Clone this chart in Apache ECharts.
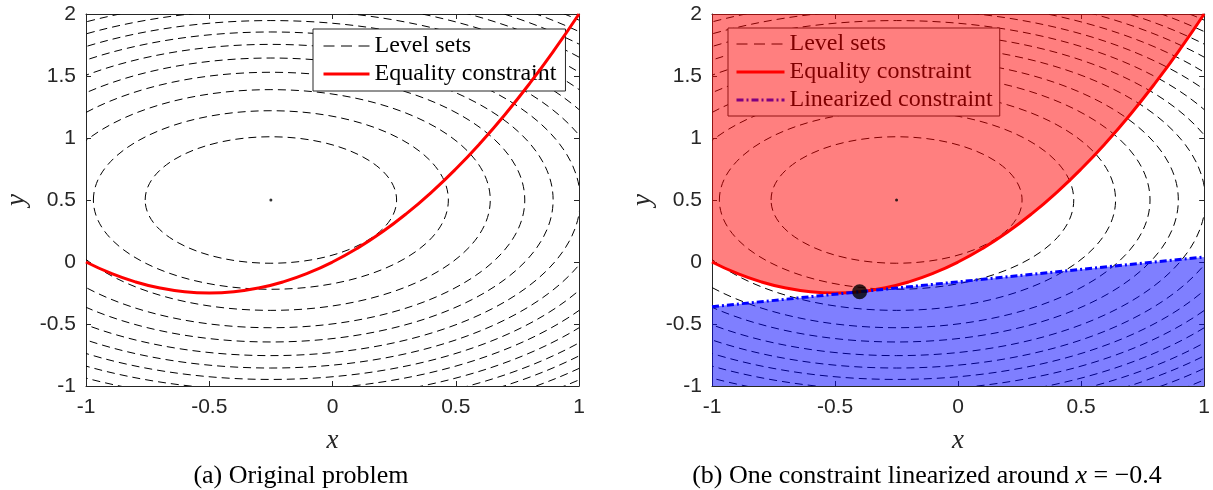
<!DOCTYPE html>
<html lang="en">
<head>
    <meta charset="utf-8">
    <title>Level sets and equality constraint</title>
    <script type="text/javascript" src="https://cdn.jsdelivr.net/npm/echarts@6/dist/echarts.min.js"></script>
    <style type="text/css">
        html, body {
            margin: 0;
            padding: 0;
            background: #fff;
        }

        #main {
            width: 1213px;
            height: 490px;
        }
    </style>
</head>
<body>
<div id="main"></div>
<script type="text/javascript">
    // equality constraint (red)
    var curveX = [-1, -0.9, -0.8, -0.7, -0.6, -0.5, -0.4, -0.3, -0.2, -0.1, 0, 0.1, 0.2, 0.3, 0.4, 0.5, 0.6, 0.7, 0.8, 0.9, 1];
    var curveY = [0, -0.09, -0.16, -0.21, -0.24, -0.25, -0.24, -0.21, -0.16, -0.09, 0, 0.11, 0.24, 0.39, 0.56, 0.75, 0.96, 1.19, 1.44, 1.71, 2];
    // linearized constraint (blue)
    var linX = [-1, 1];
    var linY = [-0.36, 0.04];
    // level sets: circles round the minimum
    var levelCenter = [-0.25, 0.5];
    var levelRadii = [0.51, 0.72, 0.89, 1.03, 1.145, 1.255, 1.355, 1.447, 1.535, 1.62, 1.7, 1.773, 1.846, 1.915];
    // linearization point
    var linPoint = [-0.4, -0.24];
    // axes
    var xMin = -1, xMax = 1, xStep = 0.5;
    var yMin = -1, yMax = 2, yStep = 0.5;

    var axisColor = '#262626';
    var levelDash = [8, 5];
    var linDash = [7, 3, 2, 3];

    function zip(xs, ys) {
        var out = [];
        for (var i = 0; i < xs.length; i++) {
            out.push([xs[i], ys[i]]);
        }
        return out;
    }

    function xAxisFor(gi, pos) {
        return {
            type: 'value',
            gridIndex: gi,
            position: pos,
            min: xMin,
            max: xMax,
            interval: xStep,
            axisLine: {show: true, onZero: false, lineStyle: {color: axisColor, width: 1}},
            axisTick: {show: true, inside: true, length: 5, lineStyle: {color: axisColor}},
            axisLabel: {
                show: pos === 'bottom',
                color: axisColor,
                fontFamily: 'Liberation Sans',
                fontSize: 21,
                margin: 11
            },
            splitLine: {show: false},
            name: pos === 'bottom' ? 'x' : '',
            nameLocation: 'middle',
            nameGap: 41,
            nameTextStyle: {fontFamily: 'Liberation Serif', fontStyle: 'italic', fontSize: 27, color: axisColor}
        };
    }

    function yAxisFor(gi, pos) {
        return {
            type: 'value',
            gridIndex: gi,
            position: pos,
            min: yMin,
            max: yMax,
            interval: yStep,
            axisLine: {show: true, onZero: false, lineStyle: {color: axisColor, width: 1}},
            axisTick: {show: true, inside: true, length: 5, lineStyle: {color: axisColor}},
            axisLabel: {
                show: pos === 'left',
                color: axisColor,
                fontFamily: 'Liberation Sans',
                fontSize: 21,
                margin: 10
            },
            splitLine: {show: false},
            name: pos === 'left' ? 'y' : '',
            nameLocation: 'middle',
            nameGap: 56,
            nameTextStyle: {fontFamily: 'Liberation Serif', fontStyle: 'italic', fontSize: 27, color: axisColor}
        };
    }

    // dashed circles drawn through the axes' own scales
    function drawLevel(params, api) {
        var c = api.coord(levelCenter);
        var r = api.value(0);
        var s = api.size([r, r], levelCenter);
        var cs = params.coordSys;
        return {
            type: 'group',
            clipPath: {type: 'rect', shape: {x: cs.x, y: cs.y, width: cs.width, height: cs.height}},
            children: [{
                type: 'ellipse',
                shape: {cx: c[0], cy: c[1], rx: s[0], ry: s[1]},
                style: {fill: 'none', stroke: '#000', lineWidth: 1, lineDash: levelDash}
            }]
        };
    }

    var levelData = levelRadii.map(function (r) {
        return [r];
    });

    var legendCommon = {
        orient: 'vertical',
        selectedMode: false,
        backgroundColor: '#fff',
        borderColor: axisColor,
        borderWidth: 1,
        borderRadius: 0,
        itemHeight: 14,
        itemGap: 4,
        itemStyle: {opacity: 0},
        textStyle: {fontFamily: 'Liberation Serif', fontSize: 24, color: '#000'}
    };

    var legendLevel = {name: 'Level sets', lineStyle: {color: '#000', width: 1, type: [11, 6.5]}};
    var legendEq = {name: 'Equality constraint', lineStyle: {color: '#ff0000', width: 3, type: 'solid'}};
    var legendLin = {name: 'Linearized constraint', lineStyle: {color: '#0000ff', width: 3, type: linDash}};

    var myChart = echarts.init(document.getElementById('main'));

    var option = {
        animation: false,
        grid: [
            {left: 86, top: 14, width: 493, height: 372},
            {left: 712, top: 14, width: 493, height: 372}
        ],
        xAxis: [xAxisFor(0, 'bottom'), xAxisFor(0, 'top'), xAxisFor(1, 'bottom'), xAxisFor(1, 'top')],
        yAxis: [yAxisFor(0, 'left'), yAxisFor(0, 'right'), yAxisFor(1, 'left'), yAxisFor(1, 'right')],
        legend: [
            Object.assign({}, legendCommon, {
                data: [legendLevel, legendEq],
                left: 313,
                top: 29,
                itemWidth: 46,
                padding: [5, 9, 5, 9]
            }),
            Object.assign({}, legendCommon, {
                data: [legendLevel, legendEq, legendLin],
                left: 728,
                top: 28,
                itemWidth: 48,
                padding: [4, 7, 4, 7]
            })
        ],
        series: [
            // legend entry for the dashed level sets
            {
                type: 'line',
                name: 'Level sets',
                xAxisIndex: 0,
                yAxisIndex: 0,
                data: [],
                symbol: 'none',
                itemStyle: {color: '#000'},
                lineStyle: {color: '#000', width: 1, type: levelDash}
            },
            // (a) original problem
            {
                type: 'custom',
                xAxisIndex: 0,
                yAxisIndex: 0,
                renderItem: drawLevel,
                data: levelData,
                z: 1,
                silent: true
            },
            {
                type: 'scatter',
                xAxisIndex: 0,
                yAxisIndex: 0,
                data: [levelCenter],
                symbolSize: 3,
                itemStyle: {color: '#000'},
                z: 5
            },
            {
                type: 'line',
                name: 'Equality constraint',
                xAxisIndex: 0,
                yAxisIndex: 0,
                data: zip(curveX, curveY),
                smooth: true,
                symbol: 'none',
                lineStyle: {color: '#ff0000', width: 3},
                itemStyle: {color: '#ff0000'},
                z: 4
            },
            // (b) linearized around x = -0.4
            {
                type: 'custom',
                xAxisIndex: 2,
                yAxisIndex: 2,
                renderItem: drawLevel,
                data: levelData,
                z: 1,
                silent: true
            },
            {
                type: 'scatter',
                xAxisIndex: 2,
                yAxisIndex: 2,
                data: [levelCenter],
                symbolSize: 3,
                itemStyle: {color: '#000'},
                z: 5
            },
            {
                type: 'line',
                name: 'Equality constraint',
                xAxisIndex: 2,
                yAxisIndex: 2,
                data: zip(curveX, curveY),
                smooth: true,
                symbol: 'none',
                lineStyle: {color: '#ff0000', width: 3},
                itemStyle: {color: '#ff0000'},
                areaStyle: {origin: 'end', color: '#ff0000', opacity: 0.5},
                z: 4
            },
            {
                type: 'line',
                name: 'Linearized constraint',
                xAxisIndex: 2,
                yAxisIndex: 2,
                data: zip(linX, linY),
                symbol: 'none',
                lineStyle: {color: '#0000ff', width: 3, type: linDash},
                itemStyle: {color: '#0000ff'},
                areaStyle: {origin: 'start', color: '#0000ff', opacity: 0.5},
                z: 4
            },
            {
                type: 'scatter',
                xAxisIndex: 2,
                yAxisIndex: 2,
                data: [linPoint],
                symbolSize: 15,
                itemStyle: {color: '#000'},
                z: 6
            }
        ],
        graphic: [
            {
                type: 'text',
                x: 301,
                y: 476,
                style: {
                    text: '(a) Original problem',
                    fontFamily: 'Liberation Serif',
                    fontSize: 26,
                    fill: '#000',
                    align: 'center',
                    verticalAlign: 'middle'
                }
            },
            {
                type: 'text',
                x: 927,
                y: 476,
                style: {
                    text: '(b) One constraint linearized around {i|x} = \u22120.4',
                    fontFamily: 'Liberation Serif',
                    fontSize: 26,
                    fill: '#000',
                    align: 'center',
                    verticalAlign: 'middle',
                    rich: {
                        i: {fontFamily: 'Liberation Serif', fontStyle: 'italic', fontSize: 26, fill: '#000'}
                    }
                }
            }
        ]
    };

    myChart.setOption(option);
</script>
</body>
</html>
